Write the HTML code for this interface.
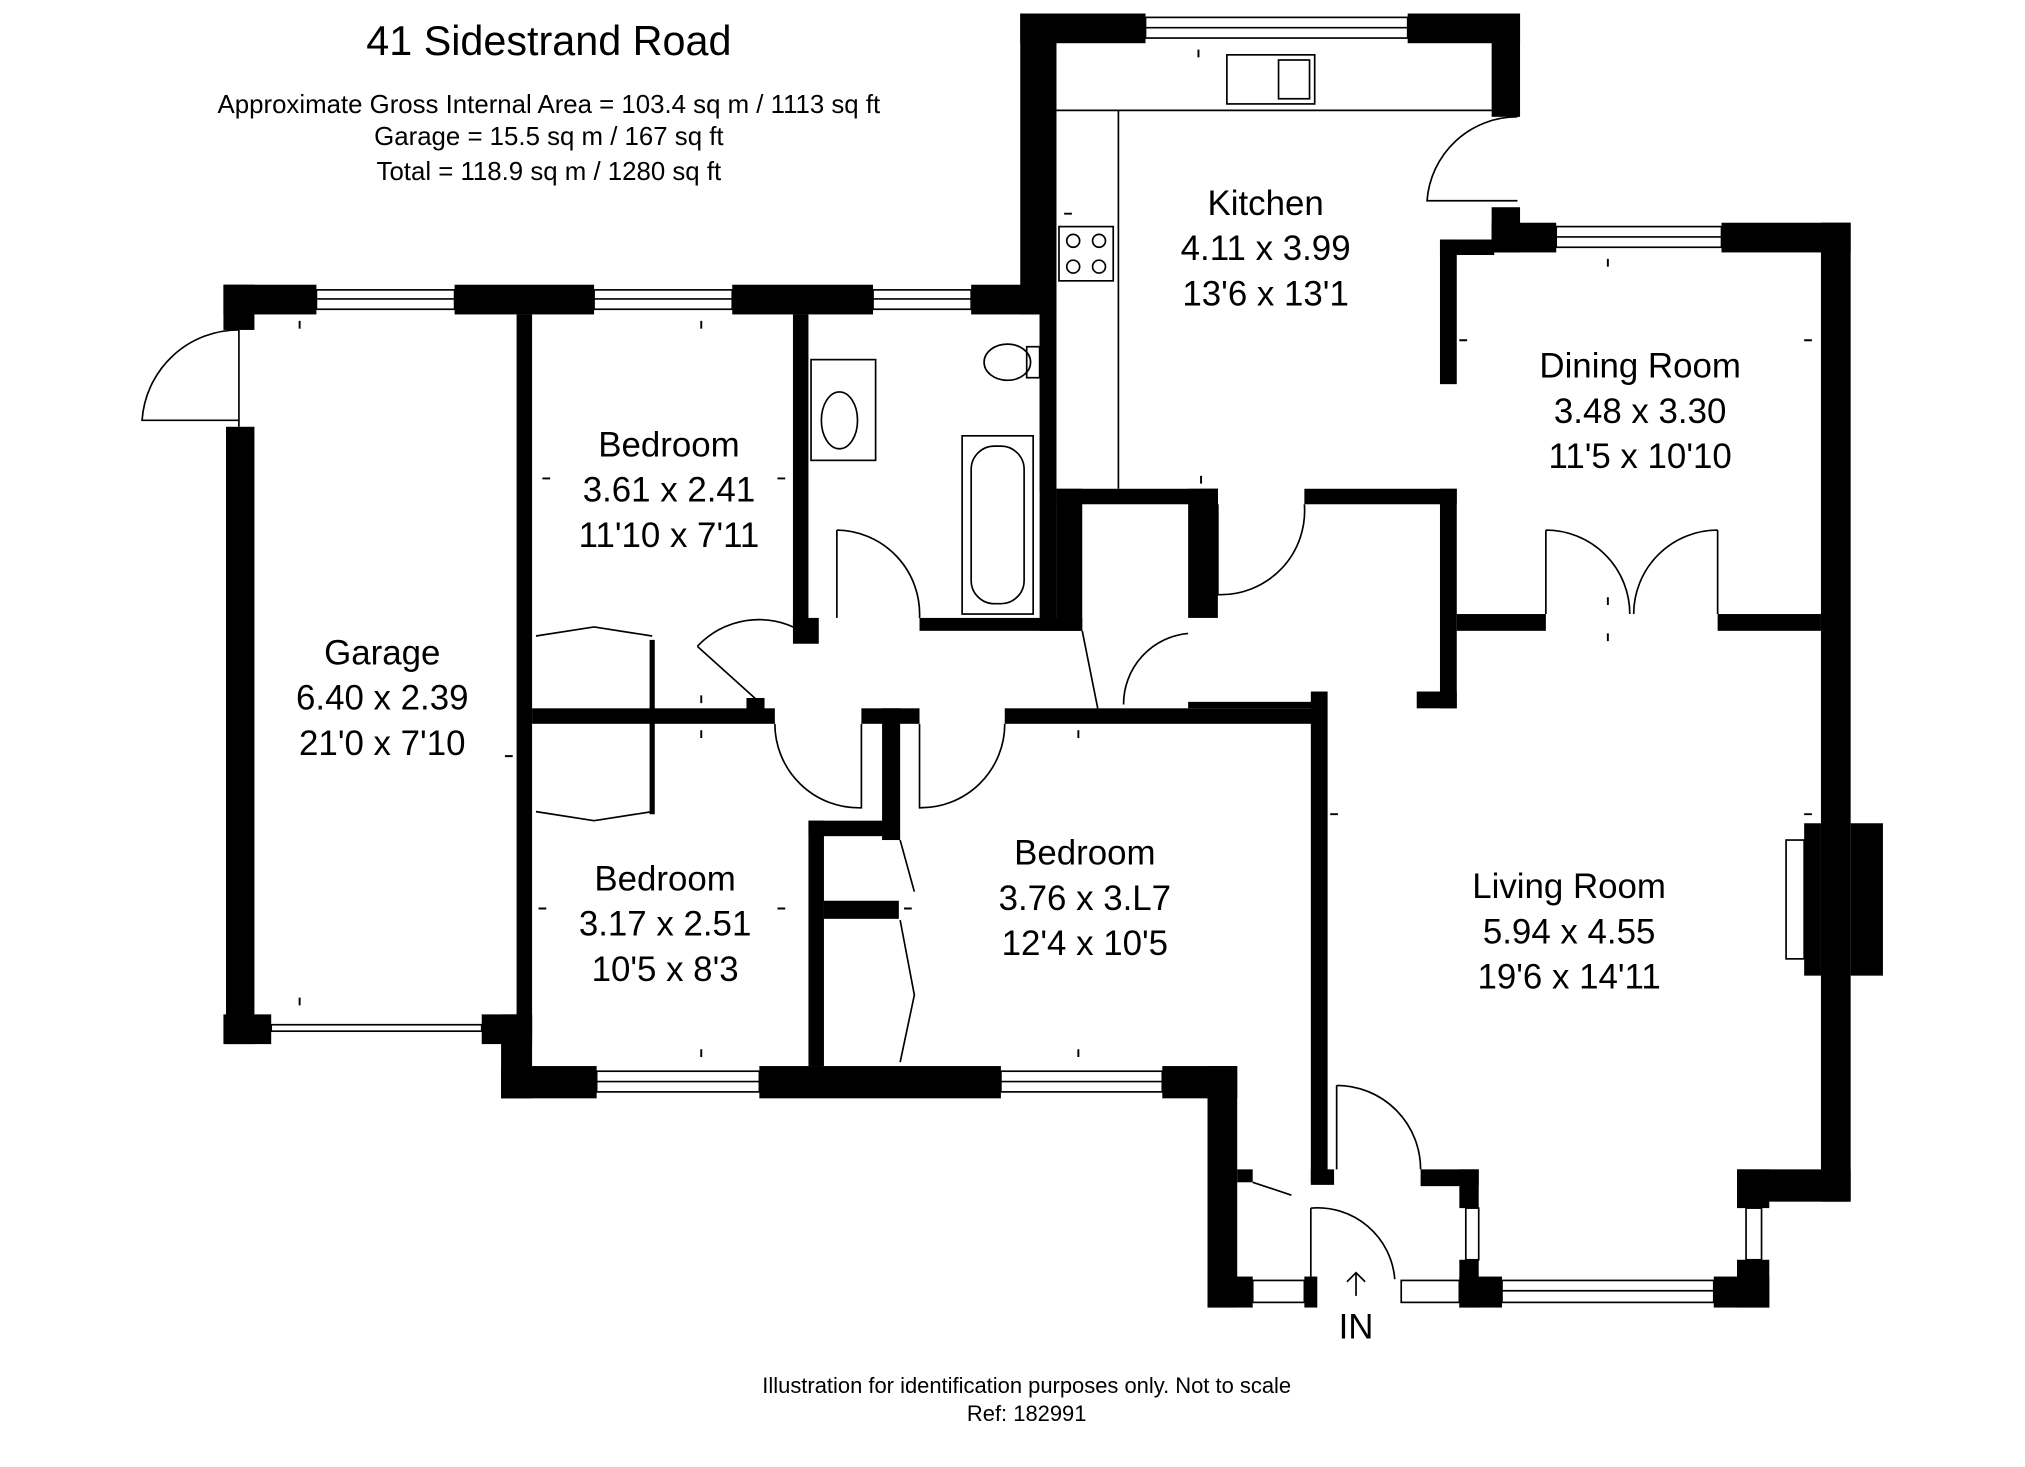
<!DOCTYPE html>
<html><head><meta charset="utf-8"><style>
html,body{margin:0;padding:0;background:#fff}
svg{display:block}
text{font-family:"Liberation Sans",sans-serif;fill:#000}
</style></head><body>
<svg width="2025" height="1467" viewBox="0 0 1568 1135" xmlns="http://www.w3.org/2000/svg">
<rect width="1568" height="1135" fill="#fff"/>
<g fill="#000">
<rect x="173" y="220" width="72" height="23"/>
<rect x="352" y="220" width="108" height="23"/>
<rect x="567" y="220" width="109" height="23"/>
<rect x="752" y="220" width="66" height="23"/>
<rect x="173" y="220" width="24" height="35"/>
<rect x="175" y="330" width="22" height="478"/>
<rect x="173" y="785" width="37" height="23"/>
<rect x="373" y="785" width="39" height="23"/>
<rect x="400" y="243" width="12" height="560"/>
<rect x="388" y="785" width="24" height="65"/>
<rect x="388" y="825" width="74" height="25"/>
<rect x="588" y="825" width="187" height="25"/>
<rect x="900" y="825" width="58" height="25"/>
<rect x="614" y="243" width="12" height="245"/>
<rect x="614" y="478" width="20" height="20"/>
<rect x="712" y="478" width="126" height="10"/>
<rect x="805" y="243" width="13" height="245"/>
<rect x="790" y="10" width="28" height="233"/>
<rect x="805" y="10" width="13" height="370"/>
<rect x="790" y="10" width="97" height="23"/>
<rect x="1090" y="10" width="87" height="23"/>
<rect x="1155" y="10" width="22" height="80"/>
<rect x="1155" y="160" width="22" height="35"/>
<rect x="1155" y="172" width="50" height="23"/>
<rect x="1333" y="172" width="100" height="23"/>
<rect x="1410" y="172" width="23" height="758"/>
<rect x="1115" y="185" width="13" height="112"/>
<rect x="1115" y="185" width="42" height="12"/>
<rect x="818" y="378" width="125" height="12"/>
<rect x="1010" y="378" width="118" height="12"/>
<rect x="1115" y="378" width="13" height="170"/>
<rect x="1097" y="535" width="31" height="13"/>
<rect x="1128" y="475" width="69" height="13"/>
<rect x="1330" y="475" width="80" height="13"/>
<rect x="818" y="378" width="20" height="110"/>
<rect x="920" y="378" width="23" height="100"/>
<rect x="930" y="378" width="13" height="30"/>
<rect x="412" y="548" width="188" height="12"/>
<rect x="667" y="548" width="45" height="12"/>
<rect x="778" y="548" width="247" height="12"/>
<rect x="920" y="543" width="105" height="5"/>
<rect x="1015" y="535" width="13" height="380"/>
<rect x="1015" y="905" width="18" height="12"/>
<rect x="683" y="548" width="14" height="102"/>
<rect x="626" y="635" width="12" height="190"/>
<rect x="626" y="635" width="70" height="12"/>
<rect x="638" y="697" width="58" height="14"/>
<rect x="578" y="540" width="14" height="14"/>
<rect x="935" y="825" width="23" height="187"/>
<rect x="935" y="988" width="35" height="24"/>
<rect x="1010" y="988" width="10" height="24"/>
<rect x="1130" y="988" width="33" height="24"/>
<rect x="1327" y="988" width="43" height="24"/>
<rect x="1345" y="905" width="25" height="30"/>
<rect x="1345" y="975" width="25" height="37"/>
<rect x="1345" y="905" width="88" height="25"/>
<rect x="1130" y="905" width="15" height="30"/>
<rect x="1100" y="905" width="45" height="13"/>
<rect x="1130" y="975" width="15" height="37"/>
<rect x="958" y="905" width="12" height="10"/>
<rect x="1433" y="637" width="25" height="118"/>
<rect x="1397" y="637" width="13" height="118"/>
</g>
<g fill="none" stroke="#000" stroke-width="1.3">
<rect x="245" y="224" width="107" height="15"/><line x1="245" y1="231" x2="352" y2="231"/>
<rect x="460" y="224" width="107" height="15"/><line x1="460" y1="231" x2="567" y2="231"/>
<rect x="676" y="224" width="76" height="15"/><line x1="676" y1="231" x2="752" y2="231"/>
<rect x="887" y="13" width="203" height="16"/><line x1="887" y1="21" x2="1090" y2="21"/>
<rect x="1205" y="175" width="128" height="16"/><line x1="1205" y1="183" x2="1333" y2="183"/>
<rect x="462" y="829" width="126" height="16"/><line x1="462" y1="837" x2="588" y2="837"/>
<rect x="775" y="829" width="125" height="16"/><line x1="775" y1="837" x2="900" y2="837"/>
<rect x="1163" y="991" width="164" height="17"/><line x1="1163" y1="999" x2="1327" y2="999"/>
<rect x="970" y="991" width="40" height="17"/>
<rect x="1085" y="991" width="45" height="17"/>
<rect x="1135" y="935" width="10" height="40"/>
<rect x="1352" y="935" width="12" height="40"/>
<rect x="210" y="793" width="163" height="5"/>
<rect x="1383" y="650" width="14" height="92"/>
<path d="M185 255 A75 75 0 0 0 110 325 L185 325"/><line x1="185" y1="255" x2="185" y2="330"/>
<path d="M1175 90 A70 70 0 0 0 1105 155 L1175 155"/>
<path d="M648 410 L648 478 M648 410 A65 65 0 0 1 712 478"/>
<path d="M540 500 L590 545 M540 500 A65 65 0 0 1 620 488"/>
<path d="M600 560 A65 65 0 0 0 667 625 L667 560"/>
<path d="M712 560 L712 625 A65 65 0 0 0 778 560"/>
<path d="M943 390 L943 460 A65 65 0 0 0 1010 390"/>
<path d="M838 488 L850 548 M870 545 A55 55 0 0 1 920 490"/>
<path d="M1197 410 L1197 475 M1197 410 A65 65 0 0 1 1262 475 M1330 410 L1330 475 M1330 410 A65 65 0 0 0 1265 475"/>
<path d="M1035 840 L1035 905 M1035 840 A65 65 0 0 1 1100 905"/>
<path d="M1015 935 L1015 988 M1015 935 A60 60 0 0 1 1080 990"/>
<path d="M970 915 L1000 925"/>
<path d="M415 492 L460 485 L505 492 M415 628 L460 635 L505 628"/>
<path d="M505 495 L505 630" stroke-width="4"/>
<path d="M697 650 L708 690 M697 712 L708 770 L697 822"/>
<rect x="745" y="337" width="55" height="138"/>
<rect x="752" y="345" width="41" height="122" rx="18"/>
<ellipse cx="780" cy="280" rx="18" ry="14"/><rect x="795" y="268" width="10" height="24"/>
<rect x="628" y="278" width="50" height="78"/><ellipse cx="650" cy="325" rx="14" ry="22"/>
<rect x="950" y="42" width="68" height="38"/><rect x="990" y="46" width="24" height="30"/>
<rect x="820" y="175" width="42" height="42"/>
<circle cx="831" cy="186" r="5"/><circle cx="851" cy="186" r="5"/><circle cx="831" cy="206" r="5"/><circle cx="851" cy="206" r="5"/>
<path d="M818 85 L1155 85 M866 85 L866 378"/>
<path d="M1050 1003 L1050 985 M1043 992 L1050 985 L1057 992"/>
</g>
<g stroke="#000" stroke-width="1.5">
<path d="M232 248v6 M543 248v6 M928 38v6 M1245 200v6 M930 368v6 M543 538v6 M543 565v6 M835 565v6 M543 812v6 M835 812v6 M232 772v6 M824 165h6 M1130 263h6 M1397 263h6 M420 370h6 M602 370h6 M417 703h6 M602 703h6 M391 585h6 M1030 630h6 M1397 630h6 M700 703h6 M1245 462v6 M1245 490v6"/>
</g>
<text x="425" y="42" font-size="32" text-anchor="middle">41 Sidestrand Road</text>
<g font-size="20" text-anchor="middle">
<text x="425" y="87">Approximate Gross Internal Area = 103.4 sq m / 1113 sq ft</text>
<text x="425" y="112">Garage = 15.5 sq m / 167 sq ft</text>
<text x="425" y="139">Total = 118.9 sq m / 1280 sq ft</text>
</g>
<g font-size="27" text-anchor="middle">
<text x="980" y="166">Kitchen</text><text x="980" y="201">4.11 x 3.99</text><text x="980" y="236">13'6 x 13'1</text>
<text x="1270" y="292">Dining Room</text><text x="1270" y="327">3.48 x 3.30</text><text x="1270" y="362">11'5 x 10'10</text>
<text x="518" y="353">Bedroom</text><text x="518" y="388">3.61 x 2.41</text><text x="518" y="423">11'10 x 7'11</text>
<text x="296" y="514">Garage</text><text x="296" y="549">6.40 x 2.39</text><text x="296" y="584">21'0 x 7'10</text>
<text x="515" y="689">Bedroom</text><text x="515" y="724">3.17 x 2.51</text><text x="515" y="759">10'5 x 8'3</text>
<text x="840" y="669">Bedroom</text><text x="840" y="704">3.76 x 3.L7</text><text x="840" y="739">12'4 x 10'5</text>
<text x="1215" y="695">Living Room</text><text x="1215" y="730">5.94 x 4.55</text><text x="1215" y="765">19'6 x 14'11</text>
<text x="1050" y="1036">IN</text>
</g>
<g font-size="17" text-anchor="middle">
<text x="795" y="1078">Illustration for identification purposes only. Not to scale</text>
<text x="795" y="1100">Ref: 182991</text>
</g>
</svg>
</body></html>
